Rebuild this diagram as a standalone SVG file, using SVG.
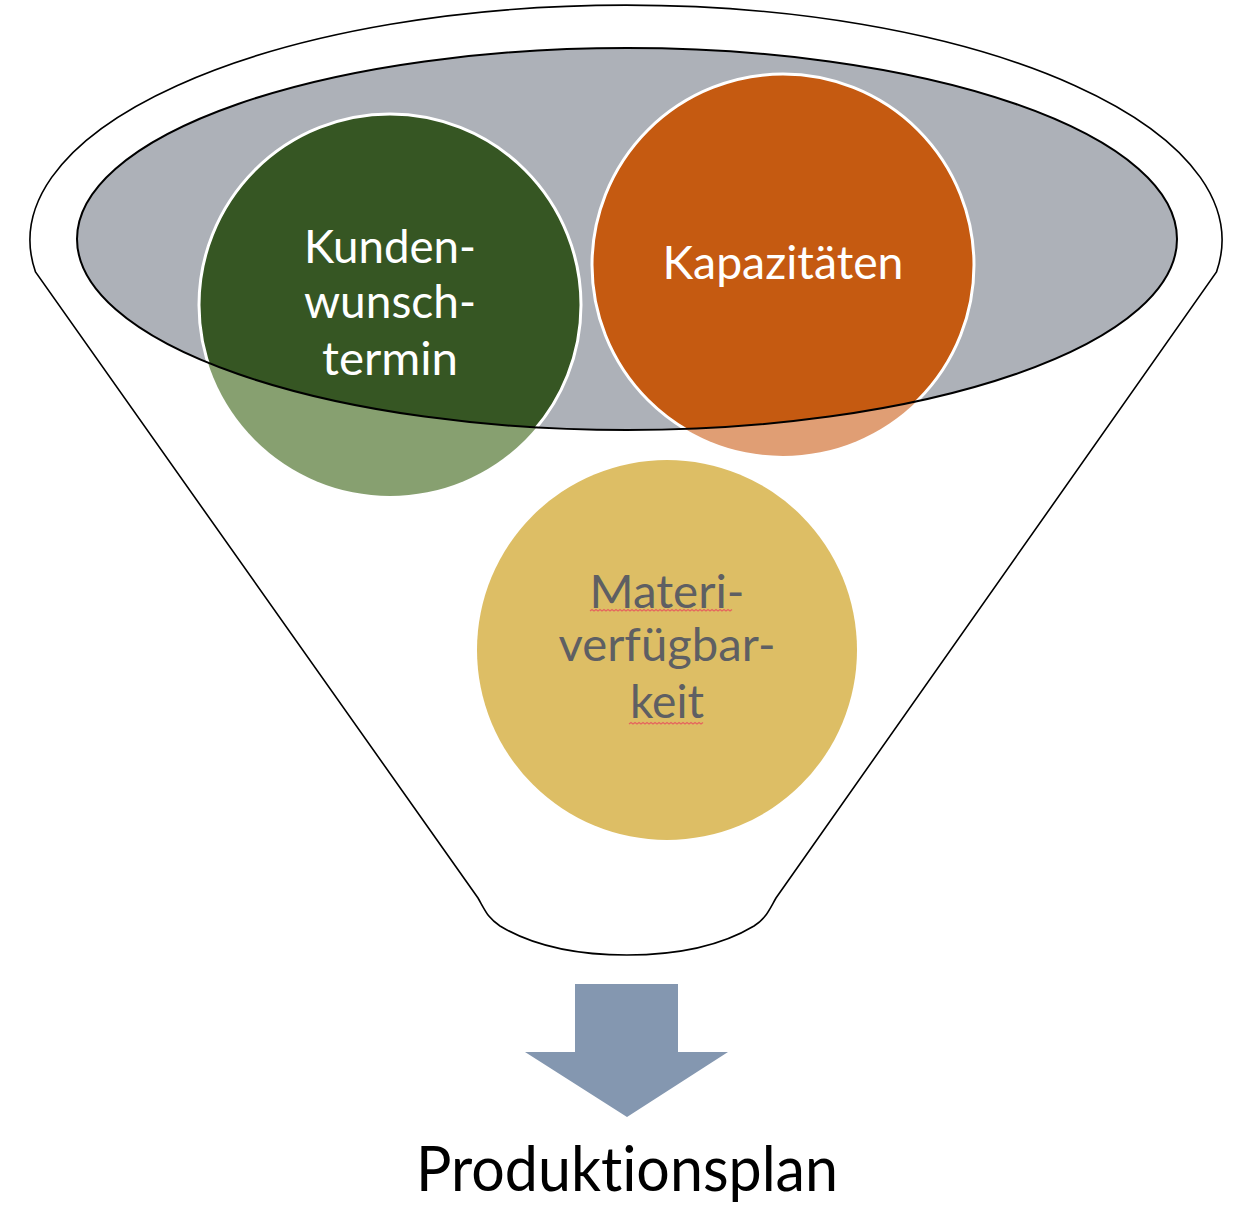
<svg xmlns="http://www.w3.org/2000/svg" width="1254" height="1212" viewBox="0 0 1254 1212">
<defs>
<style>
.outline{fill:none;stroke:#000;stroke-width:2}
text{font-variant-ligatures:none;font-feature-settings:"liga" 0}
.lbl{font-family:Lato,"Open Sans","Liberation Sans",sans-serif;font-size:46px;text-anchor:middle}
.w{fill:#fff}
.g{fill:#5E5F63}
.squig{fill:none;stroke:#E5665E;stroke-width:1.3}
</style>
<clipPath id="ellClip"><ellipse cx="627" cy="239" rx="550" ry="191"/></clipPath>
</defs>
<rect width="1254" height="1212" fill="#fff"/>
<g id="funnel">
<path d="M35.5,272 A596,235 0 1 1 1216.5,272 L776,898 C768,912 766,918 754,926 C714,950 664,955 627,955 C590,955 540,950 500,926 C488,918 486,912 478,898 Z" fill="#fff" stroke="#000" stroke-width="1.6"/>
</g>
<g id="light-circles">
<circle cx="390" cy="305" r="191" fill="#87A070"/>
<circle cx="783" cy="265" r="191" fill="#E09E74"/>
</g>
<g id="funnel-top">
<ellipse cx="627" cy="239" rx="550" ry="191" fill="#ADB1B8"/>
</g>
<g id="node-kunden">
<circle cx="390" cy="305" r="191" fill="#365623" stroke="#fff" stroke-width="3" clip-path="url(#ellClip)"/>
</g>
<g id="node-kapazitaeten">
<circle cx="783" cy="265" r="191" fill="#C55A11" stroke="#fff" stroke-width="3" clip-path="url(#ellClip)"/>
</g>
<ellipse cx="627" cy="239" rx="550" ry="191" class="outline"/>
<g id="node-kunden-text" class="lbl w">
<text x="390" y="263" textLength="172" lengthAdjust="spacingAndGlyphs">Kunden-</text>
<text x="390" y="318" textLength="172" lengthAdjust="spacingAndGlyphs">wunsch-</text>
<text x="390" y="375" textLength="136" lengthAdjust="spacingAndGlyphs">termin</text>
</g>
<g id="node-kapazitaeten-text" class="lbl w">
<text x="783" y="279" textLength="241" lengthAdjust="spacingAndGlyphs">Kapazitäten</text>
</g>
<g id="node-material">
<circle cx="667" cy="650" r="190" fill="#DDBE65"/>
<g class="lbl g">
<text x="667" y="608" textLength="155" lengthAdjust="spacingAndGlyphs">Materi-</text>
<text x="667" y="661" textLength="217" lengthAdjust="spacingAndGlyphs">verfügbar-</text>
<text x="667" y="718" textLength="74" lengthAdjust="spacingAndGlyphs">keit</text>
</g>
<path class="squig" d="M590,611 l2,-1.5 l2,1.5 l2,-1.5 l2,1.5 l2,-1.5 l2,1.5 l2,-1.5 l2,1.5 l2,-1.5 l2,1.5 l2,-1.5 l2,1.5 l2,-1.5 l2,1.5 l2,-1.5 l2,1.5 l2,-1.5 l2,1.5 l2,-1.5 l2,1.5 l2,-1.5 l2,1.5 l2,-1.5 l2,1.5 l2,-1.5 l2,1.5 l2,-1.5 l2,1.5 l2,-1.5 l2,1.5 l2,-1.5 l2,1.5 l2,-1.5 l2,1.5 l2,-1.5 l2,1.5 l2,-1.5 l2,1.5 l2,-1.5 l2,1.5 l2,-1.5 l2,1.5 l2,-1.5 l2,1.5 l2,-1.5 l2,1.5 l2,-1.5 l2,1.5 l2,-1.5 l2,1.5 l2,-1.5 l2,1.5 l2,-1.5 l2,1.5 l2,-1.5 l2,1.5 l2,-1.5 l2,1.5 l2,-1.5 l2,1.5 l2,-1.5 l2,1.5 l2,-1.5 l2,1.5 l2,-1.5 l2,1.5 l2,-1.5 l2,1.5 l2,-1.5 l2,1.5 l2,-1.5"/>
<path class="squig" d="M629,724 l2,-1.5 l2,1.5 l2,-1.5 l2,1.5 l2,-1.5 l2,1.5 l2,-1.5 l2,1.5 l2,-1.5 l2,1.5 l2,-1.5 l2,1.5 l2,-1.5 l2,1.5 l2,-1.5 l2,1.5 l2,-1.5 l2,1.5 l2,-1.5 l2,1.5 l2,-1.5 l2,1.5 l2,-1.5 l2,1.5 l2,-1.5 l2,1.5 l2,-1.5 l2,1.5 l2,-1.5 l2,1.5 l2,-1.5 l2,1.5 l2,-1.5 l2,1.5 l2,-1.5 l2,1.5 l2,-1.5"/>
</g>
<g id="connectors">
<polygon points="575,984 678,984 678,1052 728,1052 627,1117 525,1052 575,1052" fill="#8497B0"/>
</g>
<g id="node-produktionsplan">
<text x="627" y="1191" font-family="Lato,'Open Sans','Liberation Sans',sans-serif" font-size="62" text-anchor="middle" fill="#000" textLength="422" lengthAdjust="spacingAndGlyphs">Produktionsplan</text>
</g>
</svg>
